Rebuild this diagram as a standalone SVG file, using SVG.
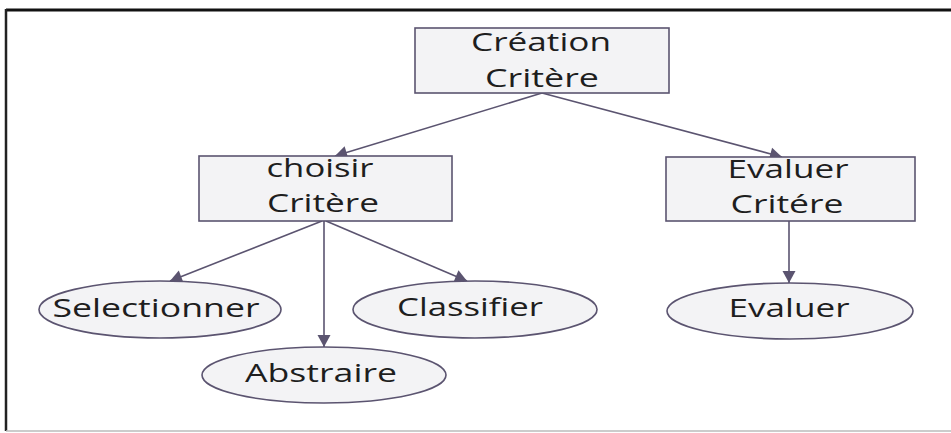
<svg xmlns="http://www.w3.org/2000/svg" width="951" height="433" viewBox="0 0 951 433">
  <style>
    .box { fill: #f3f3f5; stroke: #5b5470; stroke-width: 1.6; }
    .oval { fill: #f3f3f5; stroke: #5b5470; stroke-width: 1.6; }
    .lbl { font-family: "Open Sans", "Noto Sans", "DejaVu Sans", sans-serif; font-size: 26px; fill: #1e1e1e; text-anchor: middle; }
    .edge { stroke: #5b5470; stroke-width: 1.6; fill: none; marker-end: url(#arrow); }
  </style>
  <defs>
    <marker id="arrow" markerUnits="userSpaceOnUse" markerWidth="16" markerHeight="14" viewBox="0 0 16 14" refX="14" refY="7" orient="auto">
      <path d="M2,0.5 L14,7 L2,13.5 Z" fill="#5b5470"/>
    </marker>
  </defs>

  <!-- frame -->
  <rect x="0" y="0" width="951" height="433" fill="#ffffff"/>
  <line x1="6" y1="10" x2="951" y2="10" stroke="#111" stroke-width="3"/>
  <line x1="6" y1="9" x2="6" y2="431" stroke="#222" stroke-width="2.5"/>
  <line x1="6" y1="431" x2="951" y2="431" stroke="#bbb" stroke-width="1.5"/>

  <g id="edges">
    <line class="edge" x1="542" y1="93" x2="335" y2="156"/>
    <line class="edge" x1="542" y1="93" x2="782" y2="157"/>
    <line class="edge" x1="322" y1="221" x2="170" y2="281"/>
    <line class="edge" x1="324" y1="221" x2="324" y2="347"/>
    <line class="edge" x1="326" y1="221" x2="467" y2="281"/>
    <line class="edge" x1="789" y1="221" x2="789" y2="283"/>
  </g>

  <g id="creation-critere">
    <rect class="box" x="415" y="28" width="254" height="65"/>
    <text class="lbl" x="541" y="51" textLength="140" lengthAdjust="spacingAndGlyphs">Création</text>
    <text class="lbl" x="542" y="87" textLength="114" lengthAdjust="spacingAndGlyphs">Critère</text>
  </g>

  <g id="choisir-critere">
    <rect class="box" x="199" y="156" width="253" height="65"/>
    <text class="lbl" x="320" y="177" textLength="107" lengthAdjust="spacingAndGlyphs">choisir</text>
    <text class="lbl" x="323" y="212" textLength="112" lengthAdjust="spacingAndGlyphs">Critère</text>
  </g>

  <g id="evaluer-critere">
    <rect class="box" x="666" y="157" width="249" height="64"/>
    <text class="lbl" x="788" y="178" textLength="121" lengthAdjust="spacingAndGlyphs">Evaluer</text>
    <text class="lbl" x="787" y="213" textLength="113" lengthAdjust="spacingAndGlyphs">Critére</text>
  </g>

  <g id="selectionner">
    <ellipse class="oval" cx="160" cy="309.5" rx="121" ry="28.5"/>
    <text class="lbl" x="156" y="317" textLength="207" lengthAdjust="spacingAndGlyphs">Selectionner</text>
  </g>

  <g id="classifier">
    <ellipse class="oval" cx="475" cy="309.5" rx="122" ry="28.5"/>
    <text class="lbl" x="470" y="316" textLength="146" lengthAdjust="spacingAndGlyphs">Classifier</text>
  </g>

  <g id="abstraire">
    <ellipse class="oval" cx="324" cy="375" rx="122" ry="28"/>
    <text class="lbl" x="321" y="382" textLength="152" lengthAdjust="spacingAndGlyphs">Abstraire</text>
  </g>

  <g id="evaluer">
    <ellipse class="oval" cx="790" cy="311" rx="123" ry="28"/>
    <text class="lbl" x="789" y="317" textLength="121" lengthAdjust="spacingAndGlyphs">Evaluer</text>
  </g>
</svg>
